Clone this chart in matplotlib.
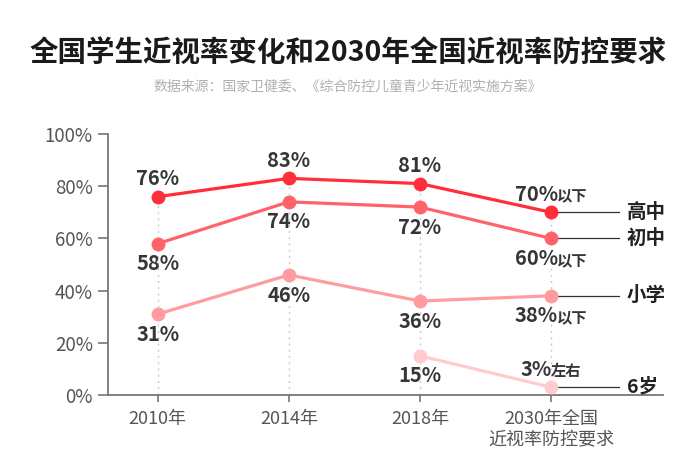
import matplotlib
matplotlib.use("Agg")
import matplotlib.pyplot as plt
from matplotlib.offsetbox import TextArea, HPacker, AnnotationBbox

plt.rcParams['font.family'] = ['Noto Sans CJK SC', 'DejaVu Sans']

categories = ["2010年", "2014年", "2018年", "2030年全国\n近视率防控要求"]
series_names = ["高中", "初中", "小学", "6岁"]
high = [76, 83, 81, 70]
middle = [58, 74, 72, 60]
primary = [31, 46, 36, 38]
age6 = [None, None, 15, 3]
suffixes = ["以下", "以下", "以下", "左右"]
y_ticks = [0, 20, 40, 60, 80, 100]
title = "全国学生近视率变化和2030年全国近视率防控要求"
subtitle = "数据来源：国家卫健委、《综合防控儿童青少年近视实施方案》"

colors = ["#ff2e3a", "#ff6369", "#ff9ca0", "#ffcbcf"]
# label position: +1 above, -1 below
label_pos = [
    [1, 1, 1, 1],
    [-1, -1, -1, -1],
    [-1, -1, -1, -1],
    [0, 0, -1, 1],
]

fig = plt.figure(figsize=(6.96, 4.62), dpi=100)
ax = fig.add_axes([108/696, 1-395/462, (663-108)/696, (395-134)/462])

all_series = [high, middle, primary, age6]
x = list(range(len(categories)))

# vertical dotted guides
for i in x:
    top = max(s[i] for s in all_series if s[i] is not None)
    ax.plot([i, i], [0, top], ls=(0, (1.5, 3)), color="#cccccc", lw=1, zorder=1)

label_color = "#363636"
for k, (s, c, pos) in enumerate(zip(all_series, colors, label_pos)):
    xs = [i for i in x if s[i] is not None]
    ys = [s[i] for i in x if s[i] is not None]
    ax.plot(xs, ys, color=c, lw=2.3, marker="o", ms=9, mec=c, mfc=c, zorder=3)
    for i, v in zip(xs, ys):
        off = 13 * pos[i] if pos[i] > 0 else 14.5 * pos[i]
        if i == 3:
            ta1 = TextArea(f"{v}%", textprops=dict(fontsize=14.5, color=label_color, fontweight="bold"))
            ta2 = TextArea(suffixes[k], textprops=dict(fontsize=11, color=label_color, fontweight="bold"))
            pack = HPacker(children=[ta1, ta2], align="baseline", pad=0, sep=-1)
            ab = AnnotationBbox(pack, (i, v), xybox=(0, off), xycoords="data",
                                boxcoords="offset points", frameon=False,
                                box_alignment=(0.5, 0.5), zorder=4)
            ax.add_artist(ab)
        else:
            ax.annotate(f"{v}%", (i, v), xytext=(0, off), textcoords="offset points",
                        ha="center", va="center", fontsize=14.5, color=label_color,
                        fontweight="bold", zorder=4)

# legend lines at right
for s, c, name in zip(all_series, colors, series_names):
    v = s[3]
    ax.plot([3, 3.52], [v, v], color="#333333", lw=0.9, zorder=2)
    ax.annotate(name, (3.58, v), xycoords="data", ha="left", va="center",
                fontsize=14, fontweight="bold", color="#222222")

ax.set_xlim(-0.38, 3.855)
ax.set_ylim(0, 100)
ax.set_yticks(y_ticks)
ax.set_yticklabels([f"{t}%" for t in y_ticks])
ax.set_xticks(x)
ax.set_xticklabels(categories, linespacing=1.2)
ax.spines["top"].set_visible(False)
ax.spines["right"].set_visible(False)
for sp in ["left", "bottom"]:
    ax.spines[sp].set_color("#777777")
    ax.spines[sp].set_linewidth(1.3)
ax.tick_params(axis="y", length=7, width=1.2, color="#777777", labelsize=13.5,
               labelcolor="#555555", pad=4)
ax.tick_params(axis="x", length=5, width=1.2, color="#777777", labelsize=13,
               labelcolor="#555555", pad=6)

fig.text(348/696, 1-53/462, title, ha="center", va="center", fontsize=20.5,
         fontweight="bold", color="#1a1a1a")
fig.text(348/696, 1-87/462, subtitle, ha="center", va="center", fontsize=10,
         color="#b0b0b0")

fig.savefig("out.png", dpi=100)
